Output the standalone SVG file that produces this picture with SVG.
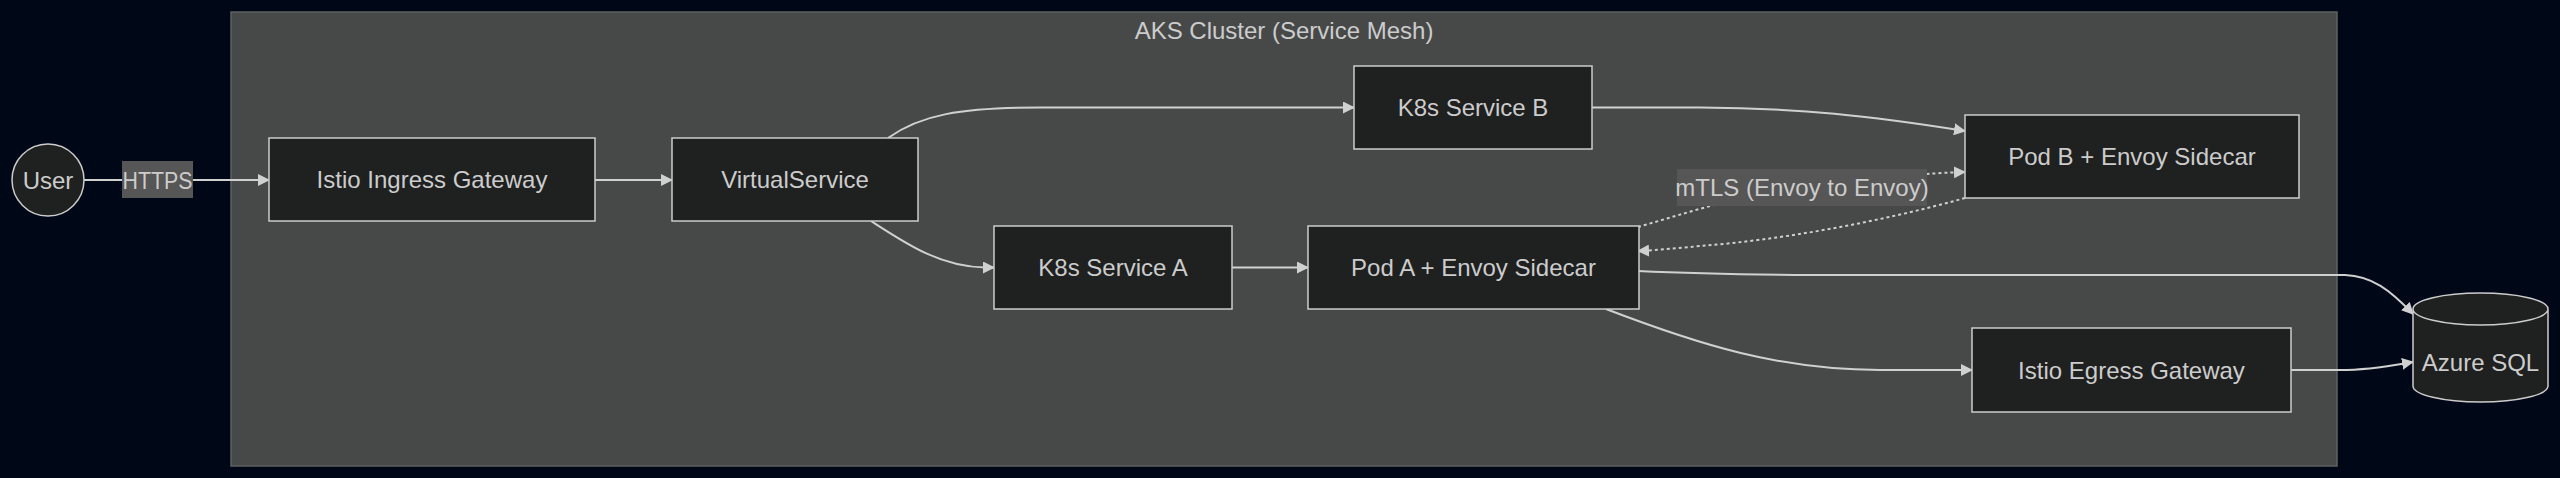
<svg xmlns="http://www.w3.org/2000/svg" width="2560" height="478" viewBox="0 0 2560 478">
<defs>
<style>
.bg{fill:#000818}
.cluster{fill:#474949;stroke:#5e6060;stroke-width:1.5}
.node{fill:#1f2020;stroke:#cccccc;stroke-width:1.5}
.t{font-family:"Liberation Sans",Arial,sans-serif;font-size:24px;fill:#cccccc;text-anchor:middle;dominant-baseline:central}
.edge{fill:none;stroke:#d0d0d0;stroke-width:2}
.dot{stroke-dasharray:3,3}
.lbl{fill:#565656}
</style>
<marker id="arr" viewBox="0 0 12 12" refX="11" refY="6" markerWidth="12" markerHeight="12" markerUnits="userSpaceOnUse" orient="auto">
<path d="M0,0 L12,6 L0,12 z" fill="#d0d0d0"/>
</marker>
</defs>
<rect class="bg" x="0" y="0" width="2560" height="478"/>
<g id="cluster-aks">
<rect class="cluster" x="231" y="12" width="2106" height="454"/>
<text class="t" x="1284" y="30">AKS Cluster (Service Mesh)</text>
</g>
<g id="connectors">
<path class="edge" d="M84,180 L269,180" marker-end="url(#arr)"/>
<path class="edge" d="M595,180 L672,180" marker-end="url(#arr)"/>
<path class="edge" d="M888,138 C920,115 960,107.5 1040,107.5 L1354,107.5" marker-end="url(#arr)"/>
<path class="edge" d="M871,221 C905,243 940,267 985,267.5 L994,267.5" marker-end="url(#arr)"/>
<path class="edge" d="M1232,267.5 L1308,267.5" marker-end="url(#arr)"/>
<path class="edge" d="M1592,107.5 L1700,107.5 C1800,108 1870,116 1965,131" marker-end="url(#arr)"/>
<path class="edge dot" d="M1638,227 C1690,212 1740,195 1802,187 C1880,177 1930,173 1965,172" marker-end="url(#arr)"/>
<path class="edge dot" d="M1965,198 C1880,222 1780,240 1700,246 C1670,249 1650,250.5 1638,251" marker-end="url(#arr)"/>
<path class="edge" d="M1638,271 C1700,274 1750,275 1850,275 L2345,275 C2372,276 2390,290 2413,314" marker-end="url(#arr)"/>
<path class="edge" d="M1606,309 C1700,345 1780,370 1880,370 L1972,370" marker-end="url(#arr)"/>
<path class="edge" d="M2291,370 L2340,370 C2370,370 2395,365 2413,362" marker-end="url(#arr)"/>
<g id="label-https">
<rect class="lbl" x="122" y="161" width="71" height="37"/>
<text class="t" x="157.5" y="180" textLength="70" lengthAdjust="spacingAndGlyphs">HTTPS</text>
</g>
<g id="label-mtls">
<rect class="lbl" x="1677" y="169" width="250" height="37"/>
<text class="t" x="1802" y="187.5">mTLS (Envoy to Envoy)</text>
</g>
</g>
<g id="node-user">
<circle class="node" cx="48" cy="180" r="36"/>
<text class="t" x="48" y="180">User</text>
</g>
<g id="node-ingress">
<rect class="node" x="269" y="138" width="326" height="83"/>
<text class="t" x="432" y="179.5">Istio Ingress Gateway</text>
</g>
<g id="node-vs">
<rect class="node" x="672" y="138" width="246" height="83"/>
<text class="t" x="795" y="179.5">VirtualService</text>
</g>
<g id="node-svcb">
<rect class="node" x="1354" y="66" width="238" height="83"/>
<text class="t" x="1473" y="107.5">K8s Service B</text>
</g>
<g id="node-svca">
<rect class="node" x="994" y="226" width="238" height="83"/>
<text class="t" x="1113" y="267.5">K8s Service A</text>
</g>
<g id="node-poda">
<rect class="node" x="1308" y="226" width="331" height="83"/>
<text class="t" x="1473.5" y="267.5">Pod A + Envoy Sidecar</text>
</g>
<g id="node-podb">
<rect class="node" x="1965" y="115" width="334" height="83"/>
<text class="t" x="2132" y="156.5">Pod B + Envoy Sidecar</text>
</g>
<g id="node-egress">
<rect class="node" x="1972" y="328" width="319" height="84"/>
<text class="t" x="2131.5" y="370">Istio Egress Gateway</text>
</g>
<g id="node-azuresql">
<path class="node" d="M2413,309 a67.5,16 0 0,0 135,0 a67.5,16 0 0,0 -135,0 l0,77 a67.5,16 0 0,0 135,0 l0,-77"/>
<text class="t" x="2480.5" y="362">Azure SQL</text>
</g>
</svg>
